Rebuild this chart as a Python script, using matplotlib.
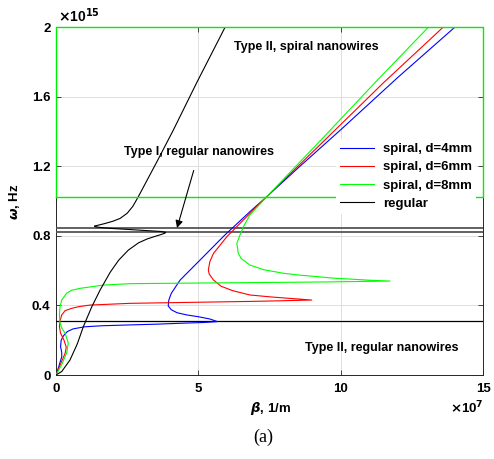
import matplotlib
matplotlib.use("Agg")
import matplotlib.pyplot as plt

plt.rcParams['font.family'] = ['Liberation Sans', 'DejaVu Sans']
plt.rcParams['font.weight'] = 'bold'

# beta in units of 1e7 1/m, omega in units of 1e15 Hz
blue_beta = [0, 0.1, 0.2, 0.2, 0.16, 0.18, 0.26, 0.4, 0.6, 1.0, 1.6, 2.6, 3.5, 4.47, 5.2, 5.67,
             5.4, 5.0, 4.6, 4.25, 4.05, 3.94, 3.96, 4.05, 4.36, 5.06, 5.9, 6.81, 7.4, 8.5, 10.0, 12.0, 14.01]
blue_omega = [0, 0.05, 0.105, 0.13, 0.163, 0.2, 0.225, 0.25, 0.265, 0.277, 0.283, 0.288, 0.292, 0.298, 0.302, 0.307,
              0.322, 0.335, 0.345, 0.358, 0.375, 0.397, 0.43, 0.47, 0.546, 0.661, 0.80, 0.939, 1.025, 1.19, 1.41, 1.71, 2.0]

red_beta = [0, 0.15, 0.32, 0.36, 0.28, 0.16, 0.12, 0.14, 0.2, 0.32, 0.55, 0.8, 1.19, 2.6, 4.5, 6.81, 8.0, 8.98,
            8.5, 7.6, 6.81, 6.2, 5.8, 5.53, 5.38, 5.35, 5.4, 5.53, 6.0, 6.81, 7.4, 9.5, 11.5, 13.6]
red_omega = [0, 0.06, 0.125, 0.16, 0.2, 0.24, 0.278, 0.31, 0.345, 0.37, 0.383, 0.393, 0.402, 0.412, 0.417, 0.423, 0.427, 0.431,
             0.437, 0.448, 0.46, 0.485, 0.51, 0.546, 0.58, 0.603, 0.65, 0.699, 0.795, 0.929, 1.025, 1.36, 1.68, 2.0]

green_beta = [0, 0.2, 0.38, 0.43, 0.32, 0.2, 0.14, 0.12, 0.14, 0.2, 0.37, 0.55, 0.84, 1.66, 2.6, 4.5, 6.81, 9.5, 11.73,
              11.0, 9.74, 8.5, 7.98, 7.3, 6.81, 6.5, 6.4, 6.35, 6.45, 6.58, 6.81, 7.4, 9.3, 11.2, 13.08]
green_omega = [0, 0.06, 0.13, 0.184, 0.24, 0.27, 0.299, 0.345, 0.39, 0.431, 0.47, 0.487, 0.498, 0.517, 0.525, 0.528, 0.531, 0.535, 0.540,
               0.545, 0.557, 0.575, 0.585, 0.605, 0.632, 0.67, 0.70, 0.757, 0.80, 0.852, 0.92, 1.025, 1.35, 1.68, 2.0]

reg_beta = [0, 0.2, 0.49, 0.75, 0.96, 1.25, 1.55, 1.9, 2.2, 2.54, 2.9, 3.2, 3.5, 3.7, 3.82, 3.85,
            3.7, 3.3, 2.8, 2.3, 1.9, 1.6, 1.4, 1.35, 1.45, 1.7, 2.0, 2.25, 2.5, 2.7, 2.89, 3.54, 4.12, 4.94, 5.94]
reg_omega = [0, 0.02, 0.086, 0.18, 0.278, 0.39, 0.489, 0.59, 0.66, 0.718, 0.76, 0.782, 0.798, 0.808, 0.815, 0.820,
             0.825, 0.829, 0.834, 0.839, 0.843, 0.847, 0.852, 0.856, 0.860, 0.870, 0.884, 0.90, 0.93, 0.97, 1.025, 1.225, 1.408, 1.68, 2.0]

legend_labels = ['spiral, d=4mm', 'spiral, d=6mm', 'spiral, d=8mm', 'regular']

# region boundaries (omega, 1e15 Hz)
spiral_type2_low = 1.025
regular_type1 = [0.824, 0.843]
regular_type2_high = 0.312

x_ticks = [0, 5, 10, 15]
y_ticks = [0, 0.4, 0.8, 1.2, 1.6, 2.0]
y_ticklabels = ['0', '0.4', '0.8', '1.2', '1.6', '2']

fig = plt.figure(figsize=(4.94, 4.59), dpi=100)
ax = fig.add_axes([0.1134, 0.183, 0.8646, 0.758])
ax.set_xlim(0, 15)
ax.set_ylim(0, 2)

lw = 0.8
ax.plot(blue_beta, blue_omega, color='#0000ff', lw=lw, label=legend_labels[0], zorder=4)
ax.plot(red_beta, red_omega, color='#ff0000', lw=lw, label=legend_labels[1], zorder=4)
ax.plot(green_beta, green_omega, color='#00ff00', lw=lw, label=legend_labels[2], zorder=4)
ax.plot(reg_beta, reg_omega, color='black', lw=lw, label=legend_labels[3], zorder=4)

# region boxes
ax.plot([0, 0, 15, 15, 0], [spiral_type2_low, 2, 2, spiral_type2_low, spiral_type2_low],
        color='#00ee00', lw=1.0, clip_on=False, zorder=5)
for yv in regular_type1:
    ax.plot([0, 15], [yv, yv], color='#555555', lw=1.3, zorder=3)
ax.plot([0, 15], [regular_type2_high, regular_type2_high], color='black', lw=0.9, zorder=3)

ax.set_xticks(x_ticks)
ax.set_yticks(y_ticks)
ax.set_yticklabels(y_ticklabels)
ax.grid(True, color='#dedede', lw=0.7)
ax.set_axisbelow(True)
ax.tick_params(direction='in', top=True, right=True, length=3.5, width=0.6,
               labelsize=9.5, colors='#262626', labelcolor='black')
ax.tick_params(axis='x', pad=6)
ax.tick_params(axis='y', pad=4)
for lab in ax.get_xticklabels() + ax.get_yticklabels():
    lab.set_fontweight('bold')
for s in ax.spines.values():
    s.set_color('#262626')
    s.set_linewidth(0.7)

tfs = 9
ax.text(8.78, 1.885, 'Type II, spiral nanowires', ha='center', va='center', fontsize=tfs, fontweight='bold', zorder=6)
ax.text(11.43, 0.155, 'Type II, regular nanowires', ha='center', va='center', fontsize=tfs, fontweight='bold', zorder=6)
ax.annotate('Type I, regular nanowires', xy=(4.25, 0.845), xytext=(5.02, 1.28),
            ha='center', va='center', fontsize=tfs, fontweight='bold', zorder=6,
            arrowprops=dict(arrowstyle='-|>', color='black', lw=0.8, mutation_scale=11,
                            shrinkA=7, shrinkB=0))

leg = ax.legend(loc='upper right', bbox_to_anchor=(0.984, 0.678), borderaxespad=0.0,
                frameon=True, fancybox=False, framealpha=1, edgecolor='none',
                handlelength=2.6, handletextpad=0.7, labelspacing=0.45,
                borderpad=0.3, prop={'weight': 'bold', 'size': 9.5})
leg.set_zorder(7)

fig.text(0.118, 0.966, r'$\times$10$^{15}$', fontsize=10, fontweight='bold', ha='left', va='center')
fig.text(0.91, 0.111, r'$\times$10$^{7}$', fontsize=9.5, fontweight='bold', ha='left', va='center')
fig.text(0.547, 0.111, r'$\beta$, 1/m', fontsize=9.5, fontweight='bold', ha='center', va='center')
fig.text(0.03, 0.56, r'$\omega$, Hz', fontsize=9.5, fontweight='bold', ha='center', va='center', rotation=90)
fig.text(0.532, 0.048, '(a)', fontsize=13, family='Liberation Serif', fontweight='normal', ha='center', va='center')

fig.savefig('out.png', dpi=100)
